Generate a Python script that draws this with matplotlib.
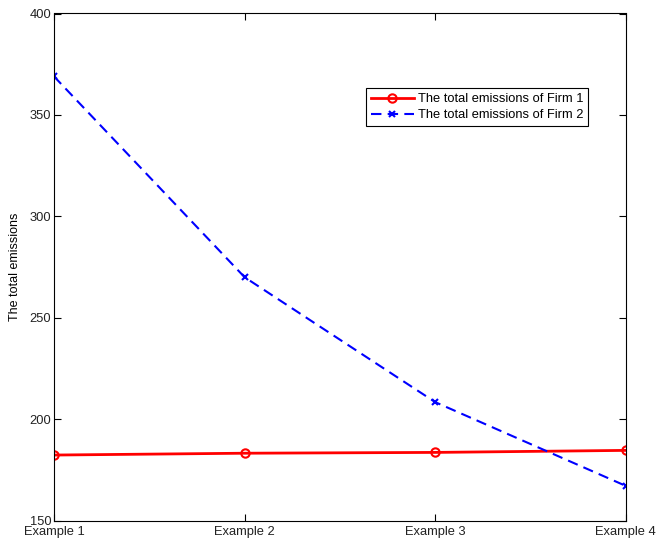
import matplotlib
matplotlib.use('Agg')
from matplotlib import pyplot as plt

examples = ['Example 1', 'Example 2', 'Example 3', 'Example 4']
firm1 = [182.3, 183.2, 183.6, 184.6]
firm2 = [369.0, 270.0, 208.4, 167.1]

plt.rcParams['font.family'] = ['Liberation Sans', 'DejaVu Sans']

fig = plt.figure(figsize=(6.58, 5.4), dpi=100)
ax = fig.add_axes([0.082, 0.036, 0.869, 0.939])

x = range(1, len(examples) + 1)
ax.plot(x, firm1, color='#ff0000', linestyle='-', linewidth=2, marker='o',
        markersize=6, markerfacecolor='none', markeredgewidth=1.5,
        label='The total emissions of Firm 1')
ax.plot(x, firm2, color='#0000ff', linestyle='--', linewidth=1.5, marker='x',
        markersize=5, markeredgewidth=1.5, dashes=(5, 3),
        label='The total emissions of Firm 2')

ax.set_xlim(1, 4)
ax.set_ylim(150, 400)
ax.set_xticks(list(x))
ax.set_xticklabels(examples, fontsize=9.3, color='#222222')
ax.set_yticks([150, 200, 250, 300, 350, 400])
ax.tick_params(axis='y', labelsize=9.3, labelcolor='#222222', pad=2)
ax.tick_params(axis='x', pad=4)
ax.tick_params(direction='in', length=5, top=True, right=True)
ax.set_ylabel('The total emissions', fontsize=9, labelpad=6)

leg = ax.legend(loc='upper left', bbox_to_anchor=(0.556, 0.837), bbox_transform=fig.transFigure,
                fontsize=9.3, fancybox=False, edgecolor='black', framealpha=1,
                handlelength=3.3, borderpad=0.4, labelspacing=0.3, handletextpad=0.3,
                borderaxespad=0)
leg.get_frame().set_linewidth(0.8)

plt.savefig('out.png', dpi=100)
